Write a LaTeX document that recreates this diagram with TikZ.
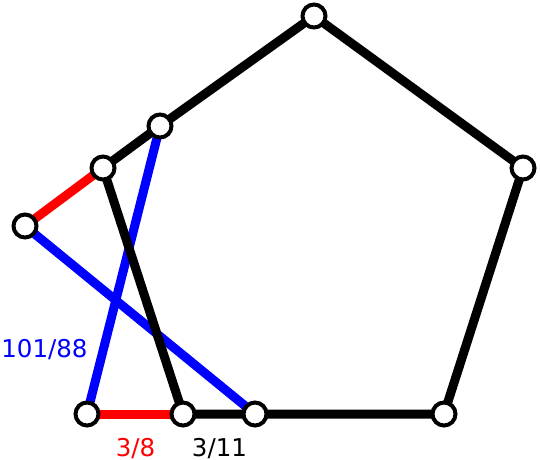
\documentclass[tikz,border=0pt]{standalone}
\usepackage{fontspec}
\setmainfont{DejaVu Sans}
\usetikzlibrary{backgrounds}

\begin{document}
\begin{tikzpicture}[x=1pt, y=-1pt,
      vertex/.style={circle, draw=black, fill=white, line width=4pt, minimum size=23pt, inner sep=0pt},
        edge/.style={line width=9pt},
        weight/.style={font=\fontsize{24.5}{29}\selectfont, inner sep=0pt, anchor=base}
          ]
        \useasboundingbox (0,0) rectangle (540,459);

        % Vertices
        \node (top) [vertex] at (314,16) {};
        \node (right) [vertex] at (523,168) {};
        \node (botright) [vertex] at (444,414) {};
        \node (botmid) [vertex] at (255,414) {};
        \node (botinner) [vertex] at (183,414) {};
        \node (botleft) [vertex] at (87,414) {};
        \node (left) [vertex] at (25,226) {};
        \node (upleft) [vertex] at (103,168) {};
        \node (upinner) [vertex] at (160,126) {};

        % Edges behind the vertices
        \begin{scope}[on background layer]
        \draw [edge, blue] (left.center) -- (botmid.center);
        \draw [edge, blue] (botleft.center) -- (upinner.center);

        \draw [edge, red] (upleft.center) -- (left.center);
        \draw [edge, red] (botleft.center) -- (botinner.center);

        \draw [edge] (top.center) -- (right.center) -- (botright.center) -- (botmid.center) -- (botinner.center);
        \draw [edge] (top.center) -- (upinner.center) -- (upleft.center) -- (botinner.center);
        \end{scope}

        % Weights
        \node (wblue) [weight, text=blue] at (44.5,357) {101/88};
        \node (wred) [weight, text=red] at (135.5,456) {3/8};
        \node (wblack) [weight] at (219.5,456) {3/11};

          \end{tikzpicture}
\end{document}
